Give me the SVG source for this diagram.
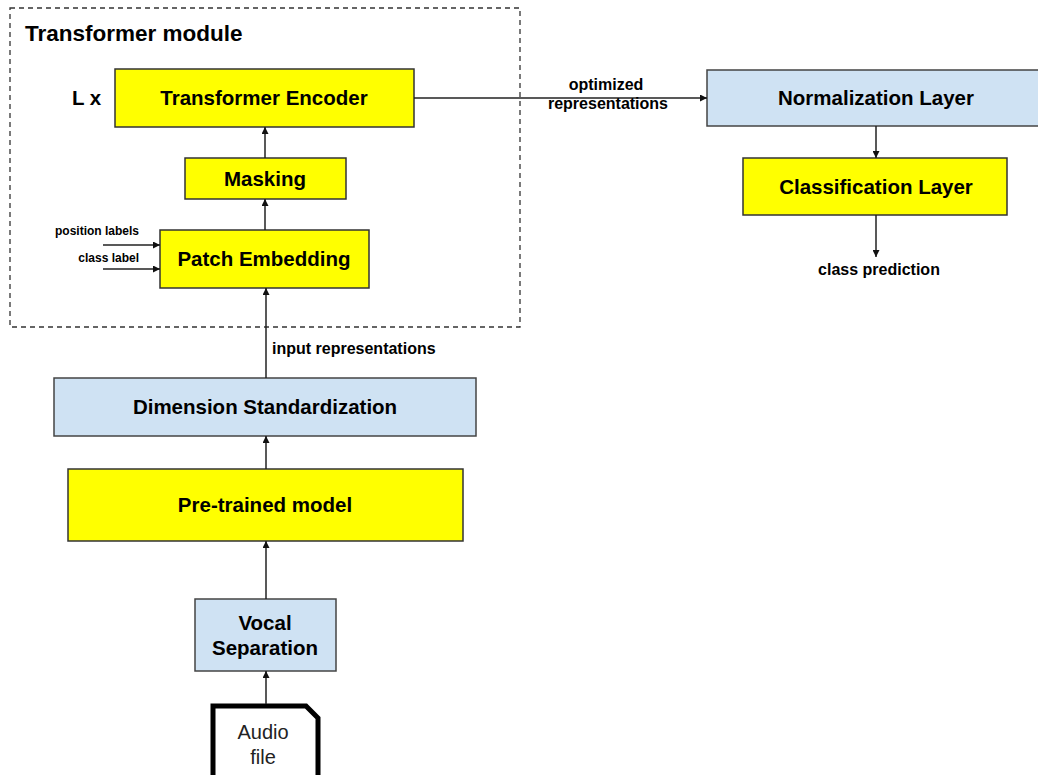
<svg xmlns="http://www.w3.org/2000/svg" width="1038" height="775" viewBox="0 0 1038 775">
<style>
.y{fill:#ffff00;stroke:#333;stroke-width:1.5}
.b{fill:#cfe2f3;stroke:#444;stroke-width:1.5}
.t{font-family:"Liberation Sans",Arial,sans-serif;font-weight:bold;fill:#000;text-anchor:middle}
.n{font-size:20.5px}
.s{font-size:16px}
.xs{font-size:12px}
.c line{stroke:#222;stroke-width:1.5;marker-end:url(#ah)}
</style>
<defs>
<marker id="ah" viewBox="0 0 10 10" refX="10" refY="5" markerWidth="7" markerHeight="7" markerUnits="userSpaceOnUse" orient="auto">
<path d="M0,0 L10,5 L0,10 z" fill="#111"/>
</marker>
</defs>
<rect width="1038" height="775" fill="#fff"/>
<g id="transformer-module">
<rect x="10" y="8" width="510" height="319" fill="none" stroke="#333" stroke-width="1.3" stroke-dasharray="5,4"/>
<text x="25" y="41" class="t" style="font-size:22.5px;text-anchor:start">Transformer module</text>
<text x="72" y="105" class="t n" style="text-anchor:start">L x</text>
</g>
<g id="encoder"><rect x="115" y="69" width="299" height="58" class="y"/><text x="264" y="105" class="t n">Transformer Encoder</text></g>
<g id="masking"><rect x="185" y="158" width="161" height="41" class="y"/><text x="265" y="186" class="t n">Masking</text></g>
<g id="patch"><rect x="160" y="230" width="209" height="58" class="y"/><text x="264" y="266" class="t n">Patch Embedding</text></g>
<g id="labels-in">
<text x="139" y="235" class="t xs" style="text-anchor:end">position labels</text>
<text x="139" y="262" class="t xs" style="text-anchor:end">class label</text>
</g>
<g id="norm"><rect x="707" y="70" width="336" height="56" class="b"/><text x="876" y="105" class="t n">Normalization Layer</text></g>
<g id="classif"><rect x="743" y="158" width="264" height="57" class="y"/><text x="876" y="194" class="t n">Classification Layer</text></g>
<g id="dimstd"><rect x="54" y="378" width="422" height="58" class="b"/><text x="265" y="414" class="t n">Dimension Standardization</text></g>
<g id="pretrained"><rect x="68" y="469" width="395" height="72" class="y"/><text x="265" y="512" class="t n">Pre-trained model</text></g>
<g id="vocal"><rect x="195" y="599" width="141" height="72" class="b"/><text x="265" y="630" class="t n">Vocal</text><text x="265" y="655" class="t n">Separation</text></g>
<g id="audio">
<path d="M213,780 L213,706 L306,706 L318,718 L318,780" fill="#fff" stroke="#000" stroke-width="5" stroke-linejoin="miter"/>
<text x="263" y="739" style="font-family:'Liberation Sans',Arial,sans-serif;font-size:20px;text-anchor:middle;fill:#222">Audio</text>
<text x="263" y="764" style="font-family:'Liberation Sans',Arial,sans-serif;font-size:20px;text-anchor:middle;fill:#222">file</text>
</g>
<g id="connectors" class="c">
<line x1="414" y1="98" x2="707" y2="98"/>
<line x1="876" y1="126" x2="876" y2="158"/>
<line x1="876" y1="215" x2="876" y2="257"/>
<line x1="265" y1="158" x2="265" y2="127"/>
<line x1="265" y1="230" x2="265" y2="199"/>
<line x1="103" y1="245" x2="160" y2="245"/>
<line x1="103" y1="269" x2="160" y2="269"/>
<line x1="266" y1="378" x2="266" y2="288"/>
<line x1="266" y1="469" x2="266" y2="436"/>
<line x1="266" y1="599" x2="266" y2="541"/>
<line x1="266" y1="704" x2="266" y2="671"/>
</g>
<g id="edge-labels">
<text x="606" y="90" class="t s">optimized</text>
<text x="608" y="109" class="t s">representations</text>
<text x="879" y="275" class="t s">class prediction</text>
<text x="272" y="354" class="t s" style="text-anchor:start">input representations</text>
</g>
</svg>
